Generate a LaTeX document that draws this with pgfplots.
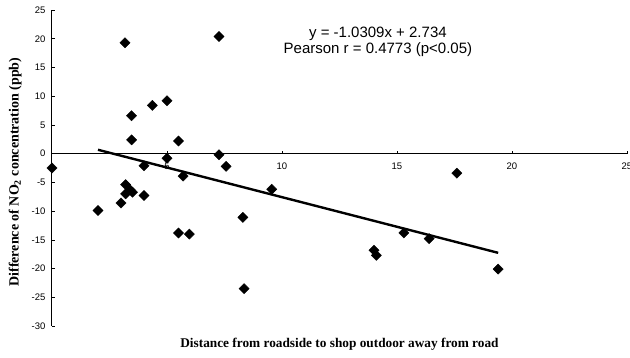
\documentclass[border=0pt]{standalone}
\usepackage{fontspec}
\setmainfont{Liberation Serif}
\newfontfamily\sansf{Liberation Sans}
\usepackage{pgfplots}
\pgfplotsset{compat=1.18}
\begin{document}
\begin{tikzpicture}
\begin{axis}[
  at={(52pt,31pt)}, anchor=south west,
  scale only axis, width=575pt, height=316pt,
  xmin=0, xmax=25, ymin=-30, ymax=25,
  axis x line*=middle, axis y line*=left,
  clip=false,
  xtick={5,10,15,20,25}, ytick={-30,-25,...,25},
  /pgf/number format/assume math mode=true,
  tick label style={font=\sansf\fontsize{9.5}{10}\selectfont},
  ytick align=inside, xtick align=inside,
  major tick length=3pt,
  every tick/.style={black, line width=0.6pt},
  axis line style={line width=1pt},
  yticklabel style={xshift=-3pt},
  xticklabel style={yshift=-6pt},
  xlabel={Distance from roadside to shop outdoor away from road},
  ylabel={Difference of NO\textsubscript{2} concentration (ppb)},
  xlabel style={font=\bfseries\fontsize{13.3}{14}\selectfont, at={(axis description cs:0.5,0)}, anchor=center, yshift=-18pt},
  ylabel style={font=\bfseries\fontsize{14}{15}\selectfont, at={(axis description cs:-0.064,0.487)}, anchor=center},
]
\addplot[only marks, mark=square*, mark size=3.6pt, mark options={rotate=45, fill=black, draw=black}] coordinates {
(0,-2.5) (2.0,-9.9) (3.0,-8.6) (3.17,19.3) (3.2,-5.4) (3.2,-7.0) (3.4,-6.3) (3.5,-6.7)
(3.46,6.6) (3.46,2.4) (4.0,-2.1) (4.0,-7.3) (4.36,8.4) (5.0,9.2) (5.0,-0.8) (5.5,2.2)
(5.5,-13.8) (5.7,-3.9) (5.97,-14.0) (7.26,20.4) (7.26,-0.2) (7.57,-2.2) (8.3,-11.1)
(8.35,-23.5) (9.55,-6.2) (14.0,-16.8) (14.1,-17.7) (15.3,-13.8) (16.4,-14.8) (17.6,-3.4)
(19.4,-20.1)
};
\addplot[black, line width=2.4pt, no marks] coordinates {(2,0.672) (19.4,-17.265)};
\node[align=center, font=\sansf\fontsize{15}{16}\selectfont] at (axis cs:14.17,19.5) {y = -1.0309x + 2.734\\Pearson r = 0.4773 (p<0.05)};
\end{axis}
\pgfresetboundingbox
\path[use as bounding box] (0,0) rectangle (630pt,357pt);
\end{tikzpicture}
\end{document}
